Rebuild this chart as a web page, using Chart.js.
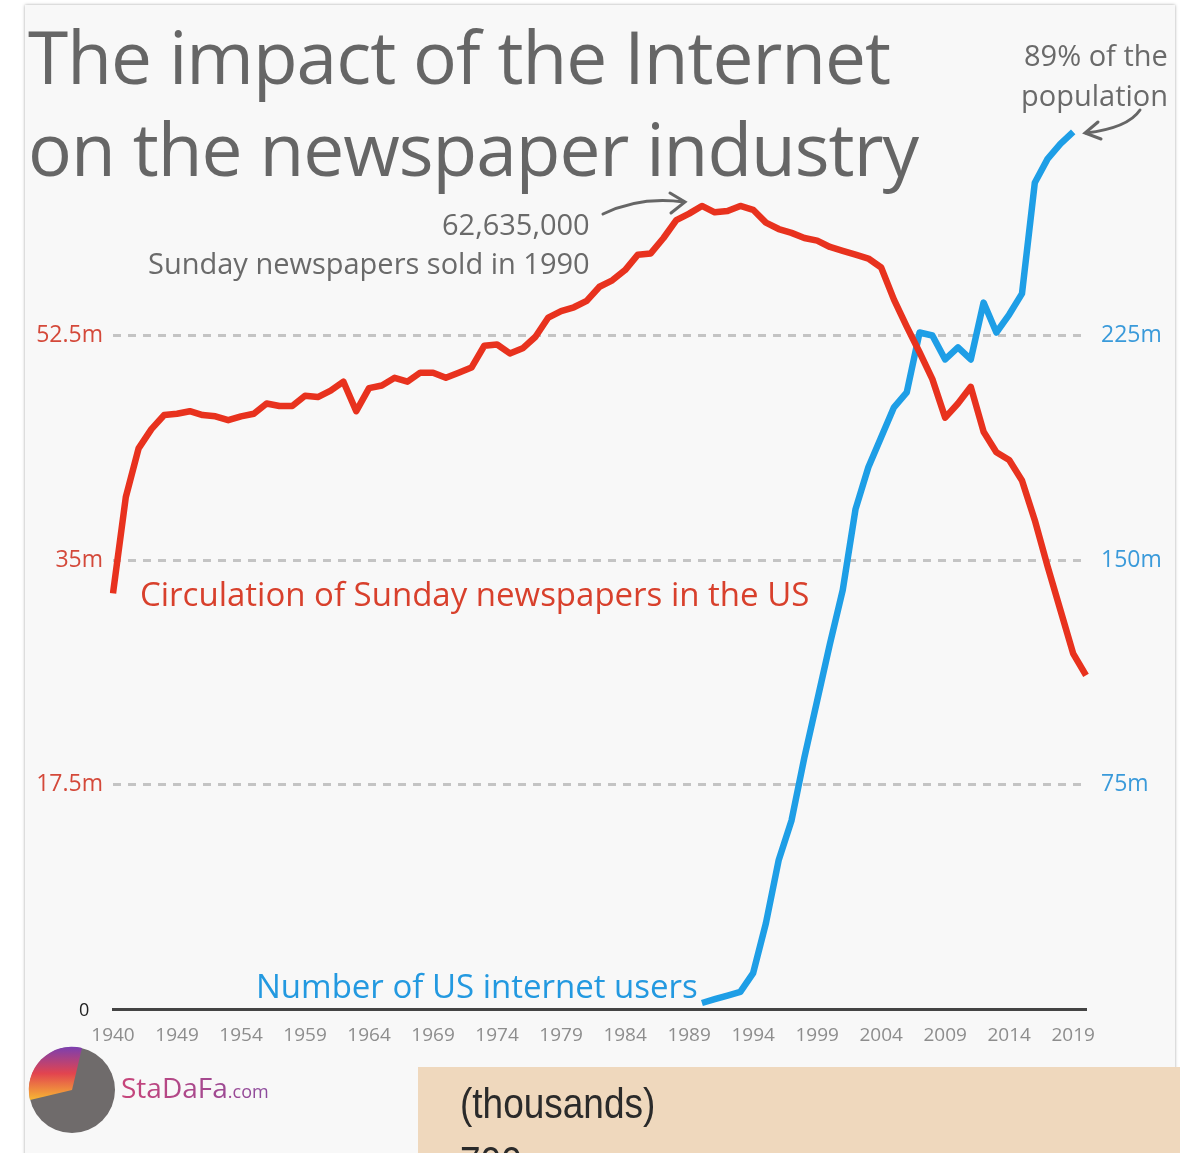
<!DOCTYPE html>
<html lang="en">
<head>
  <meta charset="UTF-8">
  <title>The impact of the Internet on the newspaper industry</title>
  <script src="https://cdn.jsdelivr.net/npm/chart.js"></script>
  <style>
    body {
      margin: 0;
      background: #ffffff;
      font-family: "Open Sans", sans-serif;
    }
    #wrap {
      position: relative;
      width: 1180px;
      height: 1153px;
      overflow: hidden;
    }
    #card {
      position: absolute;
      left: 25px;
      top: 5px;
      width: 1150px;
      height: 1200px;
      background: #f8f8f8;
      box-shadow: 0 0 3px rgba(0,0,0,0.35);
    }
    #chartBox {
      position: absolute;
      left: 0;
      top: 0;
      width: 1180px;
      height: 1153px;
    }
    .txt {
      position: absolute;
      white-space: nowrap;
    }
    #title {
      left: 28px;
      top: 10px;
      font-size: 73px;
      line-height: 92px;
      color: #666;
      letter-spacing: -1px;
    }
    .note {
      color: #6a6a6a;
      font-size: 29px;
      line-height: 36px;
    }
    #circLabel {
      left: 140px;
      top: 574px;
      font-size: 33px;
      line-height: 40px;
      color: #d8402c;
    }
    #netLabel {
      left: 256px;
      top: 966px;
      font-size: 33px;
      line-height: 40px;
      color: #2399e0;
    }
    #zero {
      left: 79px;
      top: 997px;
      font-size: 18px;
      line-height: 24px;
      color: #222;
    }
    #overlay {
      position: absolute;
      left: 0;
      top: 0;
    }
    #paper {
      position: absolute;
      left: 418px;
      top: 1067px;
      width: 762px;
      height: 86px;
      background: #efd8bd;
      overflow: hidden;
      font-family: "Liberation Sans", sans-serif;
      color: #2a2a2a;
    }
    #paper .txt {
      font-size: 43px;
      transform: scaleX(0.86);
      transform-origin: 0 0;
    }
  </style>
</head>
<body>
<div id="wrap">
  <div id="card"></div>
  <div id="chartBox"><canvas id="grafico"></canvas></div>

  <div id="title" class="txt">The impact of the Internet<br>on the newspaper industry</div>
  <div class="txt note" id="peakNum" style="top:206px;">62,635,000</div>
  <div class="txt note" id="peakText" style="top:245px;">Sunday newspapers sold in 1990</div>
  <div class="txt note" id="pop1" style="top:37px;">89% of the</div>
  <div class="txt note" id="pop2" style="top:77px;">population</div>
  <div id="circLabel" class="txt">Circulation of Sunday newspapers in the US</div>
  <div id="netLabel" class="txt">Number of US internet users</div>
  <div id="zero" class="txt">0</div>

  <svg id="overlay" width="1180" height="1153">
    <defs>
      <linearGradient id="logoGrad" x1="0" y1="0" x2="0" y2="1">
        <stop offset="0" stop-color="#7b3fb0"/>
        <stop offset="0.5" stop-color="#e2444f"/>
        <stop offset="1" stop-color="#f7b733"/>
      </linearGradient>
      <linearGradient id="textGrad" x1="0" y1="0" x2="1" y2="0">
        <stop offset="0" stop-color="#c8457a"/>
        <stop offset="1" stop-color="#8c4c9e"/>
      </linearGradient>
    </defs>
    <g fill="none" stroke="#666" stroke-width="3" stroke-linecap="round">
      <path d="M603,214 Q640,196 684,202"/>
      <path d="M670,193 L685,202 L671,213"/>
      <path d="M1140,110 Q1128,128 1086,133"/>
      <path d="M1098,122 L1085,133 L1101,139"/>
    </g>
    <circle cx="72" cy="1090" r="43" fill="#6f6b6b"/>
    <path d="M72,1090 L30,1100 A43,43 0 0,1 82,1048 Z" fill="url(#logoGrad)"/>
    <text x="121" y="1098" font-family="Open Sans, sans-serif" font-size="28" fill="url(#textGrad)">StaDaFa<tspan font-size="18">.com</tspan></text>
  </svg>

  <div id="paper">
    <div class="txt" style="left:42px; top:12px;">(thousands)</div>
    <div class="txt" style="left:42px; top:70px;">700</div>
  </div>
</div>

<script>
  const years = ['1940', '1945', '1946', '1947', '1948', '1949', '1950', '1951', '1952', '1953',
    '1954', '1955', '1956', '1957', '1958', '1959', '1960', '1961', '1962', '1963',
    '1964', '1965', '1966', '1967', '1968', '1969', '1970', '1971', '1972', '1973',
    '1974', '1975', '1976', '1977', '1978', '1979', '1980', '1981', '1982', '1983',
    '1984', '1985', '1986', '1987', '1988', '1989', '1990', '1991', '1992', '1993',
    '1994', '1995', '1996', '1997', '1998', '1999', '2000', '2001', '2002', '2003',
    '2004', '2005', '2006', '2007', '2008', '2009', '2010', '2011', '2012', '2013',
    '2014', '2015', '2016', '2017', '2018', '2019', '2020'];

  // Sunday circulation, millions
  const circulation = [32.4, 39.9, 43.7, 45.2, 46.3, 46.4, 46.6, 46.3, 46.2, 45.9,
    46.2, 46.4, 47.2, 47.0, 47.0, 47.8, 47.7, 48.2, 48.9, 46.6,
    48.4, 48.6, 49.2, 48.9, 49.6, 49.6, 49.2, 49.6, 50.0, 51.7,
    51.8, 51.1, 51.5, 52.4, 53.9, 54.4, 54.7, 55.2, 56.3, 56.8,
    57.6, 58.8, 58.9, 60.1, 61.5, 62.0, 62.6, 62.1, 62.2, 62.6,
    62.3, 61.3, 60.8, 60.5, 60.1, 59.9, 59.4, 59.1, 58.8, 58.5,
    57.8, 55.3, 53.2, 51.2, 49.1, 46.1, 47.2, 48.5, 45.0, 43.4,
    42.8, 41.2, 38.1, 34.5, 31.1, 27.7, 26.0];

  // US internet users, millions
  const internetUsers = [null, null, null, null, null, null, null, null, null, null,
    null, null, null, null, null, null, null, null, null, null,
    null, null, null, null, null, null, null, null, null, null,
    null, null, null, null, null, null, null, null, null, null,
    null, null, null, null, null, null, 2, 3.3, 4.5, 5.7,
    12, 28.7, 49.8, 63, 84, 103, 122, 140, 167, 181,
    191, 201, 206, 226, 225, 217, 221, 217, 236, 226,
    232, 239, 276, 284, 289, 293, null];

  const leftTicks = [0, 17.5, 35, 52.5];
  const rightTicks = [75, 150, 225];

  const ROJO = '#e8321e';
  const AZUL = '#1e9ee6';

  // notes that end at a fixed right edge
  function alignRight(id, right) {
    const el = document.getElementById(id);
    el.style.left = (right - el.offsetWidth) + 'px';
  }
  alignRight('peakNum', 590);
  alignRight('peakText', 590);
  alignRight('pop1', 1168);
  alignRight('pop2', 1168);

  const ctx = document.getElementById('grafico').getContext('2d');

  new Chart(ctx, {
    type: 'line',
    data: {
      labels: years,
      datasets: [{
        label: 'Circulation of Sunday newspapers in the US',
        data: circulation,
        borderColor: ROJO,
        borderWidth: 6.5,
        yAxisID: 'y'
      }, {
        label: 'Number of US internet users',
        data: internetUsers,
        borderColor: AZUL,
        borderWidth: 6.5,
        yAxisID: 'y1'
      }]
    },
    options: {
      responsive: true,
      maintainAspectRatio: false,
      animation: false,
      layout: { padding: { top: 111, left: 0, right: 0, bottom: 0 } },
      elements: {
        point: { radius: 0 },
        line: { tension: 0, borderJoinStyle: 'round', borderCapStyle: 'butt' }
      },
      plugins: {
        legend: { display: false },
        tooltip: { enabled: false }
      },
      scales: {
        x: {
          type: 'category',
          offset: false,
          afterFit: s => { s.height = 144; },
          grid: { display: false, drawTicks: false },
          border: { display: true, color: '#444', width: 3 },
          ticks: {
            autoSkip: false,
            maxRotation: 0,
            padding: 15,
            color: '#8d8d8d',
            font: { family: 'Open Sans', size: 19 },
            callback: function (v, i) { return i % 5 === 0 ? years[i] : ''; }
          }
        },
        y: {
          position: 'left',
          min: 0,
          max: 70,
          afterFit: s => { s.width = 113; },
          afterBuildTicks: s => { s.ticks = leftTicks.map(v => ({ value: v })); },
          border: { display: false, dash: [8, 7] },
          grid: {
            drawTicks: false,
            lineWidth: 3,
            color: c => c.tick && c.tick.value > 0 ? '#c4c4c4' : 'rgba(0,0,0,0)'
          },
          ticks: {
            padding: 10,
            color: '#d4493a',
            font: { family: 'Open Sans', size: 23 },
            // the 0 label sits further left, it is placed as text above
            callback: v => v === 0 ? '' : v + 'm'
          }
        },
        y1: {
          position: 'right',
          min: 0,
          max: 300,
          afterFit: s => { s.width = 94; },
          afterBuildTicks: s => { s.ticks = rightTicks.map(v => ({ value: v })); },
          border: { display: false },
          grid: { display: false, drawTicks: false },
          ticks: {
            padding: 15,
            color: '#3a9ada',
            font: { family: 'Open Sans', size: 23 },
            callback: v => v + 'm'
          }
        }
      }
    }
  });
</script>
</body>
</html>
